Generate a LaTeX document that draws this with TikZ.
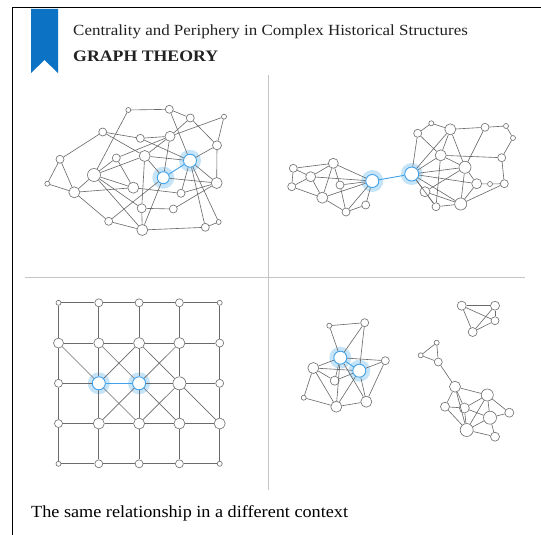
\documentclass[tikz,border=0pt]{standalone}
\usepackage{fontspec}
\setmainfont{Liberation Serif}
\usetikzlibrary{backgrounds}
\definecolor{ribbon}{HTML}{0B72C4}
\definecolor{edgec}{HTML}{6A6A6A}
\definecolor{nodec}{HTML}{747474}
\definecolor{hlc}{HTML}{3FA2EA}
\definecolor{haloc}{HTML}{C6E4F8}
\definecolor{divc}{HTML}{C4C4C4}
\definecolor{titlec}{HTML}{222222}
\begin{document}
\begin{tikzpicture}[x=1pt,y=-1pt,
  v/.style={circle,draw=nodec,fill=white,line width=0.65pt,inner sep=0pt},
  vs/.style={v,minimum size=5pt},
  vm/.style={v,minimum size=8pt},
  vn/.style={v,minimum size=10pt},
  vl/.style={v,minimum size=11pt},
  vx/.style={v,minimum size=13pt},
  hub/.style={circle,draw=hlc,fill=white,line width=0.9pt,inner sep=0pt,minimum size=13pt},
  e/.style={draw=edgec,line width=0.62pt},
  eb/.style={draw=hlc,line width=0.9pt},
  txt/.style={inner sep=0pt,anchor=base west}]
\useasboundingbox (0,0) rectangle (541,535);
% frame
\draw[black,line width=1.6pt] (12.5,535) -- (12.5,7.5) -- (541,7.5);
\fill[ribbon] (31,9) -- (58,9) -- (58,73) -- (44.5,60) -- (31,73) -- cycle;
\node[txt,text=titlec,font=\fontsize{15.5}{18}\selectfont] (title) at (73,36) {\scalebox{1.094}[1]{Centrality and Periphery in Complex Historical Structures}};
\node[txt,text=titlec,font=\fontsize{16}{18}\selectfont\bfseries] (sub) at (73,62) {\scalebox{1.11}[1]{GRAPH THEORY}};
% dividers
\draw[divc,line width=0.8pt] (268,75) -- (268,490);
\draw[divc,line width=0.8pt] (25,277) -- (525,277);
\node[txt,font=\fontsize{17}{20}\selectfont] (cap) at (31,517.5) {\scalebox{1.07}[1]{The same relationship in a different context}};

% ---------- top-left graph
\node[vs] (A1) at (128.3,110) {};
\node[vm] (A2) at (169.3,109.3) {};
\node[vm] (A3) at (190.3,118) {};
\node[vs] (A4) at (224,116.7) {};
\node[vm] (A5) at (102.7,132) {};
\node[vm] (A6) at (140.3,138.3) {};
\node[vn] (A7) at (170,136.3) {};
\node[vm,minimum size=9pt] (A8) at (217,145.3) {};
\node[vm] (A9) at (60,159.3) {};
\node[vm] (A10) at (116.3,158) {};
\node[vl] (A11) at (144.7,156) {};
\node[hub] (A12) at (190,160.7) {};
\node[vx] (A13) at (94,175) {};
\node[hub,minimum size=12pt] (A14) at (163.3,177.7) {};
\node[vs] (A15) at (47.3,183.7) {};
\node[vl] (A16) at (74.3,192.3) {};
\node[vl] (A17) at (133.3,187.7) {};
\node[vm] (A18) at (181,193.3) {};
\node[vl] (A19) at (216.7,183) {};
\node[vm,minimum size=9pt] (A20) at (141.7,208.3) {};
\node[vm] (A21) at (173.3,209) {};
\node[vm] (A22) at (108.7,221.3) {};
\node[vl] (A23) at (142.3,230) {};
\node[vm] (A24) at (205.3,227.3) {};
\node[vs] (A25) at (218.7,222) {};
\foreach \a/\b in {1/2,2/3,3/8,3/7,4/7,4/8,1/13,2/12,5/9,5/6,5/11,6/7,6/12,7/10,7/11,7/14,
  9/15,9/16,15/16,16/13,16/17,16/22,13/10,13/11,13/17,13/23,13/20,10/17,11/14,11/12,11/20,
  12/8,12/19,12/18,12/24,12/25,14/19,14/23,14/22,17/18,18/19,19/8,19/21,21/20,20/23,23/22,23/24,24/25}
  \draw[e] (A\a) -- (A\b);
\draw[eb] (A12) -- (A14);

% ---------- top-right graph
\node[vm] (Ba1) at (293.3,168.3) {};
\node[vn] (Ba2) at (333.3,163.3) {};
\node[vn] (Ba3) at (310.7,176.7) {};
\node[vm] (Ba4) at (291.7,186.7) {};
\node[vm] (Ba5) at (340,185) {};
\node[vl] (Ba6) at (322.3,197.7) {};
\node[vm] (Ba7) at (346,212) {};
\node[vm] (Ba8) at (365.7,205) {};
\node[hub] (H1) at (372.3,181) {};
\node[hub,minimum size=14pt] (H2) at (411.7,174) {};
\node[vm] (Bb1) at (417.7,133.3) {};
\node[vs] (Bb2) at (431.3,123.3) {};
\node[vl] (Bb3) at (450.3,129.3) {};
\node[vm] (Bb4) at (485,127.3) {};
\node[vs] (Bb5) at (506,126) {};
\node[vs] (Bb6) at (513,138) {};
\node[vl] (Bb7) at (440.7,155.3) {};
\node[v,minimum size=12pt] (Bb8) at (465,167.3) {};
\node[vm] (Bb9) at (501.7,157.7) {};
\node[vn] (Bb10) at (476.7,183.7) {};
\node[vs] (Bb11) at (490,184) {};
\node[vm] (Bb12) at (504.3,183.7) {};
\node[vn] (Bb13) at (425,191.7) {};
\node[vm] (Bb14) at (436,206.7) {};
\node[v,minimum size=12pt] (Bb15) at (460.7,204) {};
\foreach \a/\b in {a1/a2,a1/a3,a1/a4,a3/a4,a4/a6,a3/a2,a3/a6,a2/a6,a2/a5,a6/a7,a7/a8,a5/a7}
  \draw[e] (B\a) -- (B\b);
\foreach \a in {a2,a3,a5,a6,a7,a8}
  \draw[e] (B\a) -- (H1);
\foreach \a in {b1,b3,b7,b8,b10,b15,b14,b13}
  \draw[e] (B\a) -- (H2);
\foreach \a/\b in {b1/b2,b2/b3,b1/b7,b3/b4,b4/b5,b5/b6,b6/b9,b9/b12,b12/b11,b11/b10,b12/b15,
  b3/b7,b3/b8,b4/b8,b7/b9,b7/b8,b7/b14,b8/b10,b8/b15,b8/b13,b13/b14,b14/b15,b13/b15,b10/b15}
  \draw[e] (B\a) -- (B\b);
\draw[eb] (H1) -- (H2);

% ---------- bottom-left grid
\foreach \c/\r/\s in {0/0/vs,1/0/vm,2/0/vm,3/0/vm,4/0/vs,
  0/1/vn,1/1/vn,2/1/vl,3/1/vl,4/1/vm,
  0/2/vm,3/2/vx,4/2/vm,
  0/3/vm,1/3/vl,2/3/vl,3/3/vl,4/3/vl,
  0/4/vs,1/4/vm,2/4/vm,3/4/vm,4/4/vs}
  \node[\s] (g\c\r) at (58.5+40.3*\c,302.8+40.25*\r) {};
\node[hub] (g12) at (58.5+40.3,302.8+40.25*2) {};
\node[hub] (g22) at (58.5+40.3*2,302.8+40.25*2) {};
\foreach \c [evaluate=\c as \cn using int(\c+1)] in {0,1,2,3} {
  \foreach \r in {0,...,4} {
    \draw[e] (g\c\r) -- (g\cn\r);
    \draw[e] (g\r\c) -- (g\r\cn);
  }
}
\foreach \a/\b in {01/12,11/22,21/32,12/23,22/33,32/43,21/12,31/22,22/13,32/23}
  \draw[e] (g\a) -- (g\b);
\draw[eb] (g12) -- (g22);

% ---------- bottom-right
\node[vs] (C1) at (329.3,325.7) {};
\node[vm] (C2) at (364.7,322.7) {};
\node[hub] (C3) at (340.3,357.7) {};
\node[hub] (C4) at (359.3,370.7) {};
\node[vm] (C5) at (385.3,360.7) {};
\node[vl] (C6) at (313.3,368) {};
\node[vm,minimum size=9pt] (C7) at (334.7,380.7) {};
\node[vs] (C8) at (303.7,397.7) {};
\node[vl] (C9) at (336.3,406.7) {};
\node[vl] (C10) at (366.3,401.7) {};
\foreach \a/\b in {1/2,1/3,2/3,2/4,3/5,3/6,3/7,3/9,3/10,4/5,4/6,4/7,4/9,4/10,5/10,6/7,6/8,6/9,8/9,9/10}
  \draw[e] (C\a) -- (C\b);
\draw[eb] (C3) -- (C4);

\node[vm,minimum size=9pt] (D1) at (461.7,305.7) {};
\node[vm,minimum size=9pt] (D2) at (495,305.7) {};
\node[vm] (D3) at (495,320.7) {};
\node[vm,minimum size=9pt] (D4) at (472.7,332) {};
\foreach \a/\b in {1/2,1/3,1/4,2/3,2/4,3/4}
  \draw[e] (D\a) -- (D\b);

\node[vs] (E1) at (436.7,342.7) {};
\node[vs] (E2) at (420.7,355.3) {};
\node[vm] (E3) at (438.3,362) {};
\node[vl] (F1) at (455,386.7) {};
\node[v,minimum size=12pt] (F2) at (487.3,395) {};
\node[vm,minimum size=9pt] (F3) at (445,406.7) {};
\node[vn] (F4) at (464.3,408) {};
\node[vx] (F5) at (490,417.7) {};
\node[vm,minimum size=9pt] (F6) at (509.3,412.7) {};
\node[vx] (F7) at (466.7,430) {};
\node[vm,minimum size=9pt] (F8) at (495,436.7) {};
\draw[e] (E1) -- (E2);
\draw[e] (E2) -- (E3);
\draw[e] (E1) -- (E3);
\draw[e] (E3) -- (F1);
\foreach \a/\b in {1/2,1/3,1/4,1/7,2/4,2/5,2/6,2/7,3/4,3/7,4/5,4/7,5/6,5/7,5/8,7/8}
  \draw[e] (F\a) -- (F\b);

% ---------- background and halos
\begin{pgfonlayer}{background}
  \fill[white] (0,0) rectangle (541,535);
  \foreach \n in {A12,A14,H1,H2,g12,g22,C3,C4}
    \fill[haloc] (\n.center) circle (11);
\end{pgfonlayer}
\end{tikzpicture}
\end{document}
